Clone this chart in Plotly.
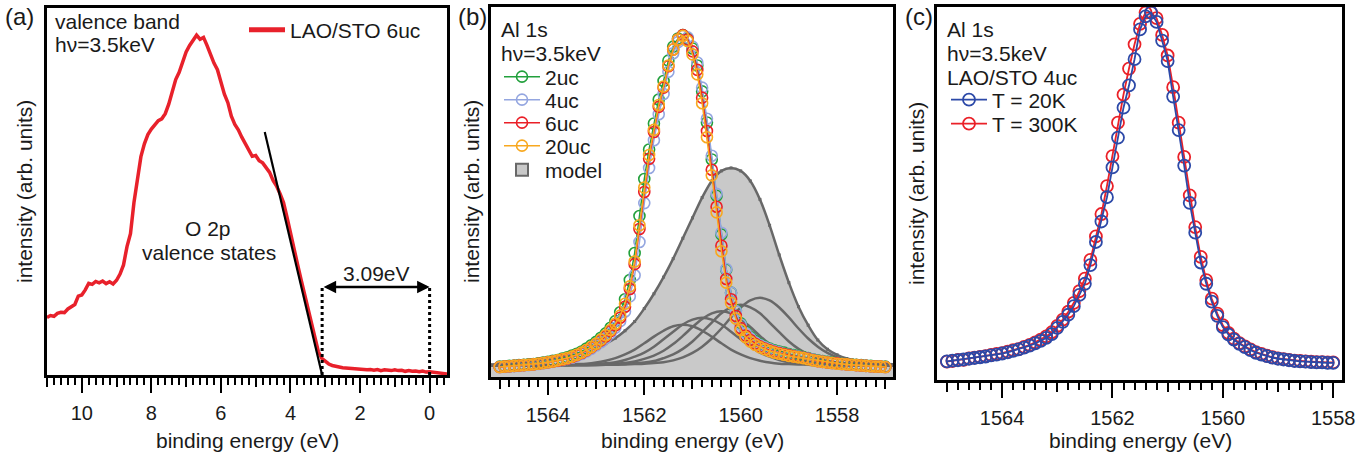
import plotly.graph_objects as go

W, H = 1368, 459
FONT = "Arial, 'Liberation Sans', Helvetica, sans-serif"
TXT = "#1a1a1a"

# ---------------- panel (a): valence band ----------------
VB_INT = [
    0.157, 0.162, 0.160, 0.168, 0.171, 0.170, 0.180, 0.186, 0.192, 0.215,
    0.218, 0.232, 0.250, 0.247, 0.255, 0.251, 0.256, 0.249, 0.254, 0.248,
    0.258, 0.275, 0.300, 0.350, 0.385, 0.470, 0.530, 0.595, 0.630, 0.655,
    0.670, 0.680, 0.693, 0.698, 0.712, 0.738, 0.770, 0.805, 0.825, 0.852,
    0.880, 0.898, 0.912, 0.926, 0.915, 0.920, 0.898, 0.872, 0.850, 0.832,
    0.795, 0.765, 0.742, 0.705, 0.683, 0.668, 0.648, 0.630, 0.612, 0.596,
    0.598, 0.584, 0.578, 0.566, 0.552, 0.530, 0.515, 0.494, 0.470, 0.430,
    0.385, 0.345, 0.303, 0.262, 0.222, 0.182, 0.140, 0.100, 0.064, 0.045,
    0.036, 0.030, 0.026, 0.023, 0.022, 0.020, 0.019, 0.019, 0.017, 0.018,
    0.015, 0.016, 0.014, 0.015, 0.013, 0.015, 0.012, 0.014, 0.013, 0.012,
    0.014, 0.012, 0.013, 0.010, 0.012, 0.010, 0.011, 0.009, 0.011, 0.008,
    0.009, 0.008, 0.007, 0.006, 0.004, 0.003,
]
VB_BE = [round(11.0 - 0.1 * i, 1) for i in range(len(VB_INT))]
EDGE_FIT_BE = [4.74, 3.09]
EDGE_FIT_INT = [0.662, 0.0]
GAP_EDGES = [3.09, 0.0]
GAP_LABEL = "3.09eV"

# ---------------- panel (b): Al 1s vs thickness ----------------
AL_2UC = [
    0.028, 0.029, 0.030, 0.031, 0.032, 0.033, 0.034, 0.035, 0.037, 0.039,
    0.041, 0.044, 0.046, 0.050, 0.053, 0.058, 0.063, 0.069, 0.077, 0.086,
    0.095, 0.106, 0.118, 0.133, 0.151, 0.175, 0.210, 0.262, 0.335, 0.435,
    0.535, 0.615, 0.685, 0.750, 0.800, 0.855, 0.893, 0.915, 0.924, 0.915,
    0.888, 0.842, 0.772, 0.688, 0.588, 0.490, 0.385, 0.290, 0.228, 0.180,
    0.145, 0.122, 0.108, 0.097, 0.088, 0.082, 0.077, 0.072, 0.069, 0.066,
    0.062, 0.059, 0.057, 0.054, 0.051, 0.048, 0.045, 0.043, 0.041, 0.039,
    0.038, 0.036, 0.035, 0.034, 0.033, 0.032, 0.031, 0.030, 0.029, 0.028,
    0.028,
]
AL_4UC = [
    0.027, 0.027, 0.028, 0.029, 0.030, 0.031, 0.032, 0.033, 0.035, 0.037,
    0.039, 0.041, 0.043, 0.046, 0.049, 0.052, 0.057, 0.062, 0.069, 0.076,
    0.085, 0.094, 0.105, 0.118, 0.133, 0.151, 0.177, 0.218, 0.275, 0.365,
    0.470, 0.565, 0.640, 0.710, 0.765, 0.825, 0.875, 0.905, 0.922, 0.918,
    0.893, 0.850, 0.782, 0.698, 0.598, 0.495, 0.390, 0.292, 0.228, 0.178,
    0.142, 0.119, 0.105, 0.094, 0.086, 0.080, 0.075, 0.070, 0.067, 0.063,
    0.060, 0.057, 0.055, 0.052, 0.050, 0.047, 0.044, 0.042, 0.040, 0.038,
    0.037, 0.035, 0.034, 0.033, 0.032, 0.031, 0.030, 0.029, 0.028, 0.028,
    0.027,
]
AL_6UC = [
    0.027, 0.028, 0.029, 0.030, 0.031, 0.032, 0.033, 0.034, 0.036, 0.038,
    0.040, 0.042, 0.044, 0.047, 0.050, 0.054, 0.059, 0.065, 0.072, 0.080,
    0.089, 0.099, 0.110, 0.124, 0.140, 0.160, 0.190, 0.238, 0.305, 0.400,
    0.500, 0.590, 0.662, 0.730, 0.782, 0.840, 0.885, 0.912, 0.924, 0.912,
    0.880, 0.830, 0.755, 0.665, 0.560, 0.460, 0.355, 0.265, 0.210, 0.165,
    0.132, 0.112, 0.100, 0.090, 0.082, 0.077, 0.072, 0.068, 0.065, 0.062,
    0.059, 0.056, 0.054, 0.052, 0.049, 0.046, 0.043, 0.041, 0.039, 0.038,
    0.037, 0.035, 0.034, 0.033, 0.032, 0.031, 0.030, 0.029, 0.028, 0.028,
    0.027,
]
AL_20UC = [
    0.027, 0.028, 0.029, 0.030, 0.031, 0.032, 0.033, 0.034, 0.036, 0.038,
    0.040, 0.042, 0.045, 0.048, 0.051, 0.055, 0.060, 0.066, 0.073, 0.081,
    0.090, 0.101, 0.113, 0.127, 0.144, 0.166, 0.198, 0.245, 0.312, 0.410,
    0.512, 0.600, 0.668, 0.735, 0.785, 0.842, 0.885, 0.912, 0.922, 0.908,
    0.872, 0.818, 0.740, 0.648, 0.545, 0.445, 0.340, 0.255, 0.200, 0.158,
    0.127, 0.108, 0.096, 0.087, 0.080, 0.075, 0.070, 0.066, 0.063, 0.060,
    0.057, 0.055, 0.053, 0.051, 0.048, 0.045, 0.043, 0.041, 0.039, 0.038,
    0.036, 0.035, 0.034, 0.033, 0.032, 0.031, 0.030, 0.029, 0.028, 0.028,
    0.027,
]
AL_BE = [round(1565.0 - 0.1 * i, 1) for i in range(len(AL_6UC))]
THICKNESS_LABELS = ["2uc", "4uc", "6uc", "20uc"]

MODEL_TOTAL = [
    0.034, 0.035, 0.037, 0.039, 0.042, 0.045, 0.048, 0.052, 0.057, 0.063,
    0.070, 0.078, 0.090, 0.105, 0.125, 0.150, 0.185, 0.225, 0.270, 0.320,
    0.375, 0.430, 0.485, 0.530, 0.557, 0.565, 0.557, 0.530, 0.480, 0.410,
    0.330, 0.255, 0.190, 0.140, 0.100, 0.075, 0.060, 0.050, 0.044, 0.040,
    0.037, 0.035, 0.034,
]
MODEL_COMP_1 = [
    0.031, 0.031, 0.031, 0.031, 0.032, 0.032, 0.032, 0.033, 0.034, 0.035,
    0.036, 0.039, 0.044, 0.051, 0.061, 0.074, 0.091, 0.109, 0.125, 0.137,
    0.141, 0.137, 0.125, 0.109, 0.091, 0.074, 0.061, 0.051, 0.044, 0.039,
    0.036, 0.035, 0.034, 0.033, 0.032, 0.032, 0.032, 0.031, 0.031, 0.031,
    0.031, 0.031, 0.031,
]
MODEL_COMP_2 = [
    0.031, 0.031, 0.031, 0.031, 0.032, 0.032, 0.032, 0.032, 0.033, 0.033,
    0.034, 0.035, 0.037, 0.040, 0.046, 0.055, 0.066, 0.082, 0.102, 0.122,
    0.142, 0.155, 0.160, 0.155, 0.142, 0.122, 0.102, 0.082, 0.066, 0.055,
    0.046, 0.040, 0.037, 0.035, 0.034, 0.033, 0.033, 0.032, 0.032, 0.032,
    0.031, 0.031, 0.031,
]
MODEL_COMP_3 = [
    0.031, 0.031, 0.031, 0.031, 0.031, 0.032, 0.032, 0.032, 0.032, 0.033,
    0.033, 0.034, 0.035, 0.036, 0.038, 0.042, 0.049, 0.058, 0.071, 0.089,
    0.111, 0.135, 0.157, 0.172, 0.178, 0.172, 0.157, 0.135, 0.111, 0.089,
    0.071, 0.058, 0.049, 0.042, 0.038, 0.036, 0.035, 0.034, 0.033, 0.033,
    0.032, 0.032, 0.032,
]
MODEL_COMP_4 = [
    0.031, 0.031, 0.031, 0.031, 0.031, 0.031, 0.031, 0.032, 0.032, 0.032,
    0.032, 0.033, 0.033, 0.034, 0.035, 0.037, 0.039, 0.043, 0.051, 0.061,
    0.076, 0.096, 0.121, 0.147, 0.172, 0.188, 0.195, 0.188, 0.172, 0.147,
    0.121, 0.096, 0.076, 0.061, 0.051, 0.043, 0.039, 0.037, 0.035, 0.034,
    0.033, 0.033, 0.032,
]
MODEL_COMP_5 = [
    0.031, 0.031, 0.031, 0.031, 0.031, 0.031, 0.031, 0.031, 0.032, 0.032,
    0.032, 0.032, 0.033, 0.033, 0.034, 0.035, 0.036, 0.038, 0.040, 0.045,
    0.053, 0.065, 0.082, 0.104, 0.131, 0.161, 0.188, 0.207, 0.214, 0.207,
    0.188, 0.161, 0.131, 0.104, 0.082, 0.065, 0.053, 0.045, 0.040, 0.038,
    0.036, 0.035, 0.034,
]
MODEL_BE = [round(1565.2 - 0.2 * i, 1) for i in range(len(MODEL_TOTAL))]

# ---------------- panel (c): Al 1s vs temperature ----------------
T_20K = [
    0.050, 0.052, 0.053, 0.055, 0.057, 0.059, 0.061, 0.063, 0.066, 0.068,
    0.071, 0.074, 0.078, 0.082, 0.087, 0.092, 0.098, 0.105, 0.113, 0.123,
    0.140, 0.156, 0.175, 0.198, 0.228, 0.258, 0.308, 0.370, 0.425, 0.490,
    0.570, 0.650, 0.730, 0.790, 0.860, 0.940, 0.975, 0.985, 0.960, 0.910,
    0.855, 0.760, 0.670, 0.575, 0.475, 0.395, 0.315, 0.258, 0.210, 0.172,
    0.142, 0.122, 0.108, 0.097, 0.088, 0.080, 0.073, 0.068, 0.064, 0.060,
    0.057, 0.055, 0.053, 0.051, 0.050, 0.049, 0.048, 0.047, 0.047, 0.046,
    0.046,
]
T_300K = [
    0.049, 0.051, 0.054, 0.054, 0.058, 0.060, 0.062, 0.064, 0.067, 0.070,
    0.072, 0.076, 0.080, 0.083, 0.089, 0.094, 0.101, 0.108, 0.117, 0.128,
    0.145, 0.162, 0.183, 0.207, 0.238, 0.272, 0.322, 0.385, 0.445, 0.520,
    0.600, 0.690, 0.765, 0.835, 0.900, 0.955, 0.985, 0.985, 0.970, 0.925,
    0.870, 0.785, 0.690, 0.598, 0.495, 0.410, 0.330, 0.268, 0.218, 0.178,
    0.147, 0.126, 0.111, 0.099, 0.090, 0.082, 0.075, 0.070, 0.065, 0.061,
    0.058, 0.056, 0.054, 0.052, 0.051, 0.050, 0.049, 0.048, 0.048, 0.047,
    0.047,
]
T_BE = [round(1565.0 - 0.1 * i, 1) for i in range(len(T_20K))]

# ---------------- styling ----------------
RED_A = "#e8212b"
C_2UC, C_4UC, C_6UC, C_20UC = "#22a03c", "#94a6e0", "#ea1f27", "#f8a81f"
C_20K, C_300K = "#2c49a8", "#ea2128"
GREY_LINE, GREY_FILL = "#686868", "#c9c9c9"

RANGE_A = [11.0, -0.5]
RANGE_B = [1565.18, 1556.84]
RANGE_C = [1565.18, 1557.84]

DOM_A = ([47 / W, 447 / W], [1 - 375 / H, 1 - 8 / H])
DOM_B = ([491 / W, 893 / W], [1 - 377 / H, 1 - 7 / H])
DOM_C = ([937 / W, 1342 / W], [1 - 380 / H, 1 - 7 / H])
TXT_SIZE = 21
TICK_SIZE = 20


def px(x):
    return x / W


def py(y):
    return 1 - y / H


fig = go.Figure()

# panel (a)
fig.add_trace(go.Scatter(x=VB_BE, y=VB_INT, mode="lines", name="LAO/STO 6uc",
                         line=dict(color=RED_A, width=3.5), xaxis="x", yaxis="y",
                         legend="legend"))
fig.add_trace(go.Scatter(x=EDGE_FIT_BE, y=EDGE_FIT_INT, mode="lines", showlegend=False,
                         line=dict(color="black", width=2.2), xaxis="x", yaxis="y"))

# panel (b)
fig.add_trace(go.Scatter(x=MODEL_BE, y=MODEL_TOTAL, mode="lines", showlegend=False,
                         fill="tozeroy", fillcolor=GREY_FILL,
                         line=dict(color=GREY_LINE, width=2.5, shape="spline"),
                         xaxis="x2", yaxis="y2"))
for comp in [MODEL_COMP_1, MODEL_COMP_2, MODEL_COMP_3, MODEL_COMP_4, MODEL_COMP_5]:
    fig.add_trace(go.Scatter(x=MODEL_BE, y=comp, mode="lines", showlegend=False,
                             line=dict(color=GREY_LINE, width=2.5, shape="spline"),
                             xaxis="x2", yaxis="y2"))
# legend key for the model (tiny markers sit on the model outline)
fig.add_trace(go.Scatter(x=MODEL_BE, y=MODEL_TOTAL, mode="markers", name="model",
                         marker=dict(symbol="square", size=1, color=GREY_FILL,
                                     line=dict(color=GREY_LINE, width=2)),
                         hoverinfo="skip", xaxis="x2", yaxis="y2", legend="legend6"))
for i, (vals, col) in enumerate(zip([AL_2UC, AL_4UC, AL_6UC, AL_20UC],
                                    [C_2UC, C_4UC, C_6UC, C_20UC])):
    fig.add_trace(go.Scatter(x=AL_BE, y=vals, mode="lines+markers", name=THICKNESS_LABELS[i],
                             line=dict(color=col, width=1.5),
                             marker=dict(symbol="circle-open", size=11, color=col,
                                         line=dict(width=1.6, color=col)),
                             xaxis="x2", yaxis="y2", legend=f"legend{i + 2}"))

# panel (c)
for vals, col, name, lg in [(T_300K, C_300K, "T = 300K", "legend8"),
                            (T_20K, C_20K, "T = 20K", "legend7")]:
    fig.add_trace(go.Scatter(x=T_BE, y=vals, mode="lines+markers", name=name,
                             line=dict(color=col, width=1.8),
                             marker=dict(symbol="circle-open", size=12, color=col,
                                         line=dict(width=1.8, color=col)),
                             xaxis="x3", yaxis="y3", legend=lg))

# ghost traces so the medium-tick overlay axes exist
for xa, ya, xs, ys in [("x4", "y", VB_BE, VB_INT), ("x5", "y2", AL_BE, AL_6UC),
                       ("x6", "y3", T_BE, T_20K)]:
    fig.add_trace(go.Scatter(x=xs, y=ys, mode="lines", opacity=0, showlegend=False,
                             hoverinfo="skip", line=dict(width=0), xaxis=xa, yaxis=ya))


def xaxis(rng, dom):
    return dict(domain=dom, range=rng, showgrid=False, zeroline=False, showline=True,
                mirror=True, linewidth=3, linecolor="black", ticks="outside",
                ticklen=15, tickwidth=2.2, tickcolor="black", tick0=0, dtick=2,
                ticklabelstandoff=3,
                tickfont=dict(size=TICK_SIZE, family=FONT, color=TXT),
                minor=dict(ticks="outside", tick0=0, dtick=0.2, ticklen=7,
                           tickwidth=1.6, tickcolor="black", showgrid=False))


def yaxis(dom, anchor):
    return dict(domain=dom, range=[0, 1], anchor=anchor, showgrid=False, zeroline=False,
                showline=True, mirror=True, linewidth=3, linecolor="black",
                ticks="", showticklabels=False)


def medaxis(rng, over, anchor):
    return dict(range=rng, overlaying=over, anchor=anchor, side="bottom",
                showgrid=False, zeroline=False, showline=False, ticks="outside",
                ticklen=11, tickwidth=2.2, tickcolor="black", tick0=0, dtick=1,
                showticklabels=False)


layout = dict(
    width=W, height=H, margin=dict(l=0, r=0, t=0, b=0),
    paper_bgcolor="white", plot_bgcolor="white", template="none",
    font=dict(family=FONT, size=TXT_SIZE, color=TXT),
    xaxis=dict(xaxis(RANGE_A, DOM_A[0]), anchor="y"),
    yaxis=yaxis(DOM_A[1], "x"),
    xaxis2=dict(xaxis(RANGE_B, DOM_B[0]), anchor="y2"),
    yaxis2=yaxis(DOM_B[1], "x2"),
    xaxis3=dict(xaxis(RANGE_C, DOM_C[0]), anchor="y3"),
    yaxis3=yaxis(DOM_C[1], "x3"),
    xaxis4=medaxis(RANGE_A, "x", "y"),
    xaxis5=medaxis(RANGE_B, "x2", "y2"),
    xaxis6=medaxis(RANGE_C, "x3", "y3"),
)

# legends, one entry each
LEG_POS = {
    "legend": (244, 30, "constant"),
    "legend2": (499, 77, "trace"), "legend3": (499, 100, "trace"),
    "legend4": (499, 123, "trace"), "legend5": (499, 146, "trace"),
    "legend6": (499, 170, "constant"),
    "legend7": (946, 100, "trace"), "legend8": (946, 124, "trace"),
}
for key, (lx, ly, sizing) in LEG_POS.items():
    layout[key] = dict(x=px(lx), y=py(ly), xanchor="left", yanchor="middle",
                       bgcolor="rgba(0,0,0,0)", borderwidth=0, itemwidth=36,
                       itemsizing=sizing,
                       font=dict(size=TXT_SIZE, family=FONT, color=TXT))

fig.update_layout(**layout)


def note(text, x, y, xanchor="left", size=TXT_SIZE, angle=0):
    fig.add_annotation(text=text, x=px(x), y=py(y), xref="paper", yref="paper",
                       xanchor=xanchor, yanchor="middle", showarrow=False,
                       textangle=angle, font=dict(size=size, family=FONT, color=TXT))


# panel labels
note("(a)", 3, 16, size=24)
note("(b)", 456, 16, size=24)
note("(c)", 903, 16, size=24)
# panel (a) texts
note("valence band", 53, 22)
note("h\u03bd=3.5keV", 53, 45)
note("O 2p", 208, 229, xanchor="center")
note("valence states", 209, 252, xanchor="center")
note(GAP_LABEL, 376, 273, xanchor="center")
# panel (b) texts
note("Al 1s", 499, 30)
note("h\u03bd=3.5keV", 499, 53)
# panel (c) texts
note("Al 1s", 945, 30)
note("h\u03bd=3.5keV", 945, 53)
note("LAO/STO 4uc", 945, 77)
# axis titles
for cx, cy in [(24, 192), (471, 192), (916, 194)]:
    note("intensity (arb. units)", cx, cy, xanchor="center", angle=-90)
for cx in [247, 692, 1140]:
    note("binding energy (eV)", cx, 440, xanchor="center")

# band-gap markers in panel (a)
GAP_TOP = 0.245
ARROW_Y = 0.24
for xe in GAP_EDGES:
    fig.add_shape(type="line", xref="x", yref="y", x0=xe, x1=xe, y0=0, y1=GAP_TOP,
                  line=dict(color="black", width=3, dash="dot"))
fig.add_annotation(x=GAP_EDGES[1], y=ARROW_Y, ax=GAP_EDGES[0], ay=ARROW_Y,
                   xref="x", yref="y", axref="x", ayref="y", text="",
                   showarrow=True, arrowhead=2, arrowside="end+start",
                   arrowsize=1, arrowwidth=2.5, arrowcolor="black")

fig.write_html(
    "out.html",
    config={"displayModeBar": False},
    post_script="document.body.style.margin='0';document.body.style.overflow='hidden';",
)
